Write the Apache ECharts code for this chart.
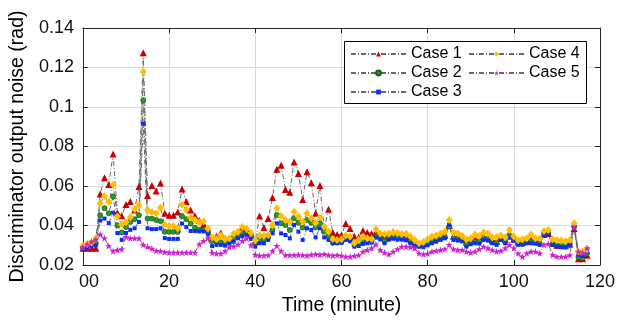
<!DOCTYPE html>
<html>
<head>
<meta charset="utf-8">
<script src="https://cdn.jsdelivr.net/npm/echarts@6/dist/echarts.min.js"></script>
<style>
  html, body { margin: 0; padding: 0; background: #ffffff; }
  #chart { width: 618px; height: 324px; }
</style>
</head>
<body>
<div id="chart"></div>
<script>
// Sample times (minutes)
const minutes = [
  0,1,2,3,4,5,6,7,8,9,10,11,12,13,14,15,16,17,18,19,
  20,21,22,23,24,25,26,27,28,29,30,31,32,33,34,35,36,37,38,39,
  40,41,42,43,44,45,46,47,48,49,50,51,52,53,54,55,56,57,58,59,
  60,61,62,63,64,65,66,67,68,69,70,71,72,73,74,75,76,77,78,79,
  80,81,82,83,84,85,86,87,88,89,90,91,92,93,94,95,96,97,98,99,
  100,101,102,103,104,105,106,107,108,109,110,111,112,113,114,115,116,117
];

// Discriminator output noise (rad) per case
const case1 = [
  0.0285,0.0285,0.0285,0.0285,0.0560,0.0642,0.0608,0.0762,0.0465,0.0450,
  0.0506,0.0522,0.0478,0.0598,0.1275,0.0552,0.0602,0.0575,0.0615,0.0462,
  0.0452,0.0452,0.0468,0.0585,0.0522,0.0478,0.0450,0.0425,0.0405,0.0382,
  0.0338,0.0345,0.0362,0.0335,0.0330,0.0352,0.0365,0.0392,0.0385,0.0362,
  0.0320,0.0448,0.0390,0.0435,0.0542,0.0685,0.0705,0.0582,0.0568,0.0722,
  0.0663,0.0532,0.0672,0.0617,0.0462,0.0603,0.0382,0.0482,0.0365,0.0355,
  0.0352,0.0410,0.0385,0.0345,0.0340,0.0375,0.0365,0.0360,0.0365,0.0352,
  0.0348,0.0352,0.0370,0.0350,0.0345,0.0342,0.0335,0.0318,0.0305,0.0308,
  0.0318,0.0330,0.0335,0.0345,0.0350,0.0400,0.0345,0.0345,0.0335,0.0315,
  0.0322,0.0335,0.0332,0.0345,0.0340,0.0325,0.0320,0.0335,0.0328,0.0355,
  0.0330,0.0315,0.0315,0.0320,0.0330,0.0320,0.0315,0.0355,0.0360,0.0310,
  0.0300,0.0300,0.0298,0.0305,0.0385,0.0232,0.0232,0.0250
];
const case2 = [
  0.0288,0.0297,0.0305,0.0310,0.0452,0.0488,0.0462,0.0547,0.0400,0.0365,
  0.0392,0.0418,0.0432,0.0452,0.1034,0.0435,0.0435,0.0428,0.0422,0.0368,
  0.0368,0.0368,0.0368,0.0448,0.0432,0.0410,0.0388,0.0378,0.0378,0.0368,
  0.0322,0.0318,0.0315,0.0312,0.0320,0.0338,0.0348,0.0362,0.0360,0.0345,
  0.0310,0.0328,0.0330,0.0340,0.0377,0.0453,0.0411,0.0403,0.0377,0.0437,
  0.0414,0.0390,0.0428,0.0414,0.0390,0.0411,0.0369,0.0347,0.0313,0.0313,
  0.0315,0.0335,0.0330,0.0302,0.0305,0.0318,0.0320,0.0322,0.0345,0.0335,
  0.0320,0.0335,0.0340,0.0338,0.0335,0.0332,0.0318,0.0302,0.0298,0.0300,
  0.0310,0.0318,0.0325,0.0335,0.0342,0.0395,0.0335,0.0330,0.0325,0.0302,
  0.0312,0.0318,0.0318,0.0335,0.0330,0.0315,0.0310,0.0332,0.0318,0.0345,
  0.0330,0.0310,0.0310,0.0315,0.0320,0.0315,0.0308,0.0360,0.0362,0.0308,
  0.0300,0.0298,0.0298,0.0305,0.0395,0.0240,0.0235,0.0258
];
const case3 = [
  0.0280,0.0290,0.0298,0.0300,0.0425,0.0435,0.0412,0.0465,0.0362,0.0327,
  0.0362,0.0378,0.0386,0.0418,0.0915,0.0386,0.0382,0.0382,0.0386,0.0336,
  0.0332,0.0332,0.0332,0.0410,0.0392,0.0372,0.0372,0.0370,0.0370,0.0355,
  0.0296,0.0302,0.0302,0.0298,0.0308,0.0318,0.0335,0.0345,0.0352,0.0332,
  0.0293,0.0310,0.0310,0.0327,0.0360,0.0411,0.0360,0.0352,0.0335,0.0403,
  0.0369,0.0327,0.0386,0.0377,0.0340,0.0386,0.0340,0.0327,0.0310,0.0312,
  0.0315,0.0327,0.0320,0.0293,0.0296,0.0307,0.0310,0.0313,0.0339,0.0330,
  0.0310,0.0328,0.0333,0.0328,0.0328,0.0325,0.0310,0.0296,0.0293,0.0290,
  0.0300,0.0310,0.0318,0.0327,0.0335,0.0403,0.0327,0.0324,0.0320,0.0293,
  0.0305,0.0310,0.0308,0.0327,0.0324,0.0310,0.0302,0.0327,0.0310,0.0338,
  0.0324,0.0302,0.0302,0.0310,0.0310,0.0308,0.0302,0.0352,0.0355,0.0302,
  0.0293,0.0290,0.0290,0.0302,0.0394,0.0251,0.0246,0.0268
];
const case4 = [
  0.0298,0.0306,0.0314,0.0335,0.0513,0.0548,0.0520,0.0606,0.0445,0.0405,
  0.0418,0.0442,0.0482,0.0503,0.1178,0.0478,0.0468,0.0462,0.0490,0.0405,
  0.0398,0.0398,0.0386,0.0505,0.0480,0.0440,0.0428,0.0415,0.0420,0.0385,
  0.0340,0.0332,0.0350,0.0330,0.0335,0.0358,0.0368,0.0392,0.0382,0.0362,
  0.0325,0.0350,0.0348,0.0352,0.0403,0.0487,0.0448,0.0428,0.0420,0.0470,
  0.0445,0.0420,0.0462,0.0437,0.0414,0.0442,0.0394,0.0369,0.0332,0.0327,
  0.0330,0.0350,0.0344,0.0312,0.0327,0.0344,0.0336,0.0332,0.0381,0.0360,
  0.0357,0.0360,0.0364,0.0362,0.0357,0.0358,0.0344,0.0327,0.0310,0.0316,
  0.0330,0.0344,0.0350,0.0360,0.0369,0.0428,0.0364,0.0360,0.0347,0.0330,
  0.0335,0.0355,0.0347,0.0364,0.0360,0.0340,0.0342,0.0350,0.0340,0.0377,
  0.0344,0.0327,0.0330,0.0335,0.0355,0.0335,0.0335,0.0372,0.0377,0.0330,
  0.0327,0.0324,0.0320,0.0327,0.0411,0.0268,0.0268,0.0280
];
const case5 = [
  0.0290,0.0305,0.0318,0.0330,0.0355,0.0336,0.0296,0.0270,0.0276,0.0280,
  0.0342,0.0335,0.0335,0.0335,0.0302,0.0292,0.0283,0.0272,0.0270,0.0265,
  0.0263,0.0263,0.0263,0.0263,0.0263,0.0263,0.0263,0.0305,0.0322,0.0336,
  0.0262,0.0258,0.0258,0.0270,0.0290,0.0295,0.0305,0.0322,0.0335,0.0300,
  0.0252,0.0248,0.0248,0.0250,0.0270,0.0297,0.0270,0.0250,0.0250,0.0250,
  0.0252,0.0250,0.0248,0.0252,0.0255,0.0252,0.0255,0.0250,0.0248,0.0250,
  0.0248,0.0242,0.0242,0.0246,0.0250,0.0268,0.0276,0.0285,0.0305,0.0276,
  0.0263,0.0254,0.0268,0.0280,0.0293,0.0293,0.0290,0.0285,0.0259,0.0254,
  0.0258,0.0268,0.0272,0.0276,0.0280,0.0302,0.0280,0.0276,0.0276,0.0268,
  0.0263,0.0268,0.0280,0.0293,0.0285,0.0276,0.0268,0.0272,0.0285,0.0302,
  0.0285,0.0259,0.0242,0.0259,0.0268,0.0268,0.0259,0.0302,0.0307,0.0251,
  0.0242,0.0242,0.0242,0.0250,0.0390,0.0268,0.0262,0.0285
];

// Tick labels
const xTickLabels = ['00', '20', '40', '60', '80', '100', '120'];
const yTickLabels = ['0.02', '0.04', '0.06', '0.08', '0.1', '0.12', '0.14'];

const FONT = 'Liberation Sans, Arial, sans-serif';
const FRAME = '#262626';
const GRID_LINE = '#dadada';
const DASH_DOT = [5, 2, 1, 2];
const STAR = 'path://M0,-10L2.35,-3.24L9.51,-3.09L3.8,1.24L5.88,8.09L0,4L-5.88,8.09L-3.8,1.24L-9.51,-3.09L-2.35,-3.24Z';

function pairs(values) {
  return minutes.map((m, i) => [m, values[i]]);
}

function caseSeries(name, values, symbol, size, fill, edge) {
  return {
    name: name,
    type: 'line',
    data: pairs(values),
    symbol: symbol,
    symbolSize: size,
    showSymbol: true,
    showAllSymbol: true,
    itemStyle: { color: fill, borderColor: edge, borderWidth: edge ? 0.8 : 0 },
    lineStyle: { color: '#6a6a6a', width: 1, type: DASH_DOT },
    emphasis: { disabled: true },
    silent: true
  };
}

const frameAxis = {
  axisLine: { show: true, onZero: false, lineStyle: { color: FRAME, width: 1 } },
  axisTick: { show: true, inside: true, length: 5, lineStyle: { color: FRAME } }
};

const legendCommon = {
  orient: 'vertical', top: 46, padding: 0,
  itemWidth: 55, itemHeight: 6, itemGap: 3, selectedMode: false,
  textStyle: { fontFamily: FONT, fontSize: 16, color: '#000', lineHeight: 16 }
};

const chart = echarts.init(document.getElementById('chart'), null, { renderer: 'canvas' });

chart.setOption({
  animation: false,
  backgroundColor: '#ffffff',
  grid: { left: 79, right: 18, top: 28, bottom: 59, containLabel: false },
  xAxis: [
    Object.assign({
      type: 'value', position: 'bottom', min: 0, max: 120, interval: 20,
      name: 'Time (minute)', nameLocation: 'middle', nameGap: 30,
      nameTextStyle: { fontFamily: FONT, fontSize: 19.5, color: '#000' },
      axisLabel: {
        margin: 8, fontFamily: FONT, fontSize: 18, color: '#111',
        formatter: function (v) {
          const i = Math.round(v / 20);
          return i === 0 ? '{first|' + xTickLabels[i] + '}' : xTickLabels[i];
        },
        rich: { first: { fontFamily: FONT, fontSize: 18, color: '#111', padding: [0, 0, 0, 12] } }
      },
      splitLine: { show: true, lineStyle: { color: GRID_LINE, width: 1 } }
    }, frameAxis),
    Object.assign({
      type: 'value', position: 'top', min: 0, max: 120, interval: 20,
      axisLabel: { show: false }, splitLine: { show: false }
    }, frameAxis)
  ],
  yAxis: [
    Object.assign({
      type: 'value', position: 'left', min: 0.02, max: 0.14, interval: 0.02,
      name: 'Discriminator output noise (rad)', nameLocation: 'middle', nameGap: 49,
      nameTextStyle: { fontFamily: FONT, fontSize: 19.5, color: '#000' },
      axisLabel: {
        margin: 9, fontFamily: FONT, fontSize: 18, color: '#111',
        formatter: function (v) { return yTickLabels[Math.round((v - 0.02) / 0.02)]; }
      },
      splitLine: { show: true, lineStyle: { color: GRID_LINE, width: 1 } }
    }, frameAxis),
    Object.assign({
      type: 'value', position: 'right', min: 0.02, max: 0.14, interval: 0.02,
      axisLabel: { show: false }, splitLine: { show: false }
    }, frameAxis)
  ],
  graphic: [{
    type: 'rect', z: 3,
    shape: { x: 344.5, y: 41.5, width: 242, height: 62 },
    style: { fill: '#ffffff', stroke: '#000000', lineWidth: 1 }
  }],
  legend: [
    Object.assign({ left: 350, data: ['Case 1', 'Case 2', 'Case 3'] }, legendCommon),
    Object.assign({ left: 468, data: ['Case 4', 'Case 5'] }, legendCommon)
  ],
  series: [
    caseSeries('Case 1', case1, 'triangle', 7, '#c80000', null),
    caseSeries('Case 2', case2, 'circle', 5, '#2e9a2e', '#1b5e1b'),
    caseSeries('Case 3', case3, 'rect', 4, '#0a2cff', null),
    caseSeries('Case 4', case4, 'diamond', [7, 8], '#ffbf00', null),
    caseSeries('Case 5', case5, STAR, 7, '#cc22cc', null)
  ]
});
</script>
</body>
</html>
